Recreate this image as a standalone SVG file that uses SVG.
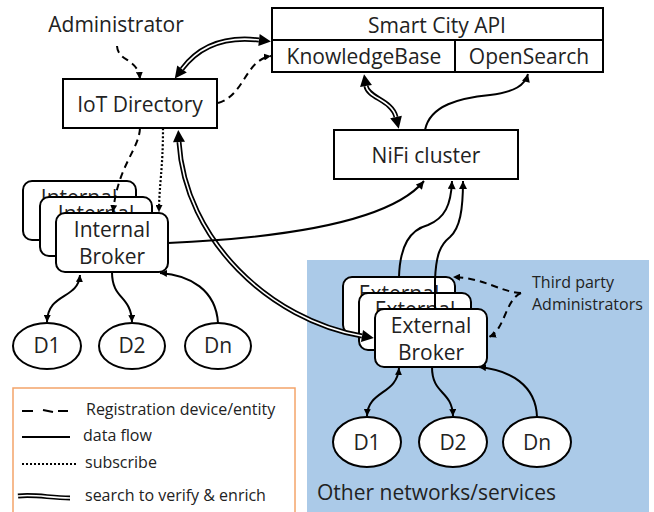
<svg xmlns="http://www.w3.org/2000/svg" width="654" height="512" viewBox="0 0 654 512">
<style>
text{font-family:"Open Sans","Liberation Sans",sans-serif;fill:#222;}
.lbl{font-size:21px;text-anchor:middle;}
.sm{font-size:16px;}
.box{fill:#fff;stroke:#000;stroke-width:2;}
.ln{fill:none;stroke:#000;stroke-width:2;}
.dash{fill:none;stroke:#000;stroke-width:2;stroke-dasharray:7,5;}
.dot{fill:none;stroke:#000;stroke-width:2.2;stroke-dasharray:2,2;}
.dbo{fill:none;stroke:#000;stroke-width:5;}
.dbi{fill:none;stroke:#fff;stroke-width:1.6;}
</style>
<defs>
<marker id="a" viewBox="0 0 10 10" refX="10" refY="5" markerWidth="9" markerHeight="8" markerUnits="userSpaceOnUse" orient="auto-start-reverse"><path d="M0,0 L10,5 L0,10 z"/></marker>
<marker id="s" viewBox="0 0 10 10" refX="10" refY="5" markerWidth="7" markerHeight="7" markerUnits="userSpaceOnUse" orient="auto-start-reverse"><path d="M0,0 L10,5 L0,10 z"/></marker>
<marker id="b" viewBox="0 0 10 10" refX="0" refY="5" markerWidth="13" markerHeight="12" markerUnits="userSpaceOnUse" orient="auto-start-reverse"><path d="M0,0 L10,5 L0,10 z"/></marker>
</defs>
<rect id="other-networks" x="307" y="260" width="342" height="252" fill="#ABCAE8"/>
<text class="lbl" x="317" y="500" style="text-anchor:start">Other networks/services</text>
<text id="admin" class="lbl" x="116" y="32">Administrator</text>
<g id="third-party"><text class="sm" x="532" y="288">Third party</text><text class="sm" x="532" y="310">Administrators</text></g>
<g id="smart-city-api">
<rect class="box" x="272" y="8" width="331" height="64"/>
<line class="ln" x1="272" y1="40" x2="603" y2="40"/>
<line class="ln" x1="455" y1="40" x2="455" y2="72"/>
<text class="lbl" x="437" y="33">Smart City API</text>
<text class="lbl" x="364" y="64">KnowledgeBase</text>
<text class="lbl" x="529" y="64">OpenSearch</text>
</g>
<g id="iot-directory"><rect class="box" x="63" y="79" width="154" height="49"/><text class="lbl" x="140" y="112">IoT Directory</text></g>
<g id="nifi"><rect class="box" x="334" y="130" width="184" height="49"/><text class="lbl" x="426" y="163">NiFi cluster</text></g>
<g id="internal-broker">
<rect class="box" x="23" y="181" width="113" height="59" rx="9"/><text class="lbl" x="79" y="205">Internal</text>
<rect class="box" x="40" y="197" width="112" height="59" rx="9"/><text class="lbl" x="96" y="221">Internal</text>
<rect class="box" x="56" y="213" width="112" height="59" rx="9"/><text class="lbl" x="112" y="237">Internal</text><text class="lbl" x="112" y="264">Broker</text>
</g>
<g id="external-broker">
<rect class="box" x="343" y="277" width="112" height="57" rx="9"/><text class="lbl" x="399" y="301">External</text>
<rect class="box" x="359" y="293" width="112" height="57" rx="9"/><text class="lbl" x="415" y="317">External</text>
<rect class="box" x="375" y="309" width="112" height="58" rx="9"/><text class="lbl" x="431" y="333">External</text><text class="lbl" x="431" y="360">Broker</text>
</g>
<g id="int-d1"><ellipse class="box" cx="47" cy="346" rx="34" ry="23"/><text class="lbl" x="47" y="353">D1</text></g>
<g id="int-d2"><ellipse class="box" cx="132" cy="346" rx="33" ry="23"/><text class="lbl" x="132" y="353">D2</text></g>
<g id="int-dn"><ellipse class="box" cx="218" cy="346" rx="33" ry="23"/><text class="lbl" x="218" y="353">Dn</text></g>
<g id="ext-d1"><ellipse class="box" cx="367" cy="442" rx="34" ry="25"/><text class="lbl" x="367" y="450">D1</text></g>
<g id="ext-d2"><ellipse class="box" cx="453" cy="442" rx="34" ry="25"/><text class="lbl" x="453" y="450">D2</text></g>
<g id="ext-dn"><ellipse class="box" cx="537" cy="442" rx="34" ry="25"/><text class="lbl" x="537" y="450">Dn</text></g>
<g id="connectors">
<path class="dash" d="M117,46 C118,62 138,58 140,79" marker-end="url(#s)"/>
<path class="dash" d="M218,103 C245,95 245,60 271,56" marker-end="url(#s)"/>
<path class="dash" d="M140,128 C139,150 118,165 113,212" marker-end="url(#s)"/>
<path class="dot" d="M163,128 C163,170 159,185 159,212" marker-end="url(#s)"/>
<path class="dash" d="M521,293 C500,292 485,278 453,277" marker-end="url(#s)"/>
<path class="dash" d="M521,293 C505,300 505,330 489,337" marker-end="url(#s)"/>
<path class="dbo" d="M182,69 C200,45 225,36 259,40" marker-start="url(#b)" marker-end="url(#b)"/>
<path class="dbi" d="M182,69 C200,45 225,36 259,40"/>
<path class="dbo" d="M366,86 C368,98 392,100 396,117" marker-start="url(#b)" marker-end="url(#b)"/>
<path class="dbi" d="M366,86 C368,98 392,100 396,117"/>
<path class="dbo" d="M179,142 C185,240 270,320 362,336" marker-start="url(#b)" marker-end="url(#b)"/>
<path class="dbi" d="M179,142 C185,240 270,320 362,336"/>
<path class="ln" d="M425,130 C430,105 460,98 490,95 C515,92 525,85 528,74" marker-end="url(#a)"/>
<path class="ln" d="M168,243 C280,238 390,222 424,181" marker-end="url(#a)"/>
<path class="ln" d="M399,277 C400,245 410,230 428,225 C445,218 451,205 452,181" marker-end="url(#a)"/>
<path class="ln" d="M435,309 L435,280 C436,255 440,245 450,237 C460,228 463,210 463,181" marker-end="url(#a)"/>
<path class="ln" d="M80,275 C78,300 48,292 47,322" marker-start="url(#s)" marker-end="url(#s)"/>
<path class="ln" d="M112,272 C112,300 131,295 132,322" marker-end="url(#s)"/>
<path class="ln" d="M218,323 C216,290 190,275 160,273" marker-end="url(#s)"/>
<path class="ln" d="M399,368 C397,395 368,390 367,416" marker-start="url(#s)" marker-end="url(#s)"/>
<path class="ln" d="M432,367 C432,395 452,390 453,416" marker-end="url(#s)"/>
<path class="ln" d="M537,417 C536,385 510,370 479,367" marker-end="url(#s)"/>
</g>
<g id="legend">
<rect x="13" y="388" width="282" height="130" fill="#fff" stroke="#F4A46A" stroke-width="1.5"/>
<path class="ln" d="M22,411 L33,411 M43,410 L53,412 M58,411 L68,411"/>
<text class="sm" x="86" y="415">Registration device/entity</text>
<line class="ln" x1="22" y1="437" x2="70" y2="437"/>
<text class="sm" x="83" y="441">data flow</text>
<line class="dot" x1="22" y1="464" x2="77" y2="464"/>
<text class="sm" x="85" y="468">subscribe</text>
<path class="dbo" d="M18,496 C35,494 50,498 70,498"/>
<path class="dbi" d="M18,496 C35,494 50,498 70,498"/>
<text class="sm" x="85" y="501">search to verify &amp; enrich</text>
</g>
</svg>
